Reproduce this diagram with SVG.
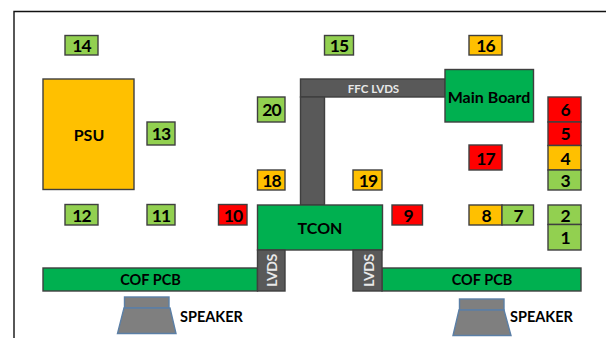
<svg xmlns="http://www.w3.org/2000/svg" width="606" height="338" viewBox="0 0 606 338">
<style>
text{font-family:"Lato","Open Sans","Liberation Sans",sans-serif;font-weight:700;text-anchor:middle;fill:#000}
.b{stroke:#3f3f3f;stroke-width:1.4}
.g{fill:#92d050}.o{fill:#ffc000}.r{fill:#ff0000}.d{fill:#00b050}.k{fill:#595959}
.n{font-size:17.500px;letter-spacing:-1px}.l{font-size:16px}.c{font-size:14.500px}
.w{fill:#e8e8e8;font-size:14px;letter-spacing:-.4px}
.s{fill:#7f7f7f;stroke:#5b7fa6;stroke-width:1.4}
.t{font-size:14.500px;text-anchor:start}
</style>
<path d="M14 338V11.500H606" fill="none" stroke="#111" stroke-width="1.400"/>
<g id="connectors">
<rect class="b k" x="300.500" y="79" width="144.500" height="18"/>
<rect class="b k" x="300.500" y="97" width="24" height="108"/>
<text class="w" x="373.500" y="93" style="font-size:11.500px;letter-spacing:0">FFC LVDS</text>
</g>
<g id="psu"><rect class="b o" x="43" y="79" width="91" height="110.500"/><text class="l" x="89" y="141">PSU</text></g>
<g id="main-board"><rect class="b d" x="445" y="69.500" width="88.500" height="52.500"/><text class="l" x="489" y="103">Main Board</text></g>
<g id="cof-left"><rect class="b d" x="43" y="268" width="214.500" height="23"/><text class="c" x="150.500" y="285">COF PCB</text></g>
<g id="cof-right"><rect class="b d" x="382" y="268" width="199" height="23"/><text class="c" x="482" y="285">COF PCB</text></g>
<g id="tcon"><rect class="b d" x="257.500" y="205" width="125" height="45"/><text class="l" x="320" y="234">TCON</text></g>
<g id="lvds-left"><rect class="b k" x="257.500" y="250" width="27.500" height="41"/><text class="w" transform="translate(277 270.500) rotate(-90)">LVDS</text></g>
<g id="lvds-right"><rect class="b k" x="353" y="250" width="29" height="41"/><text class="w" transform="translate(374 270.500) rotate(-90)">LVDS</text></g>
<g id="n14"><rect class="b g" x="65" y="35.500" width="33" height="19.500"/><text class="n" x="81.500" y="52">14</text></g>
<g id="n13"><rect class="b g" x="147" y="122" width="28" height="23"/><text class="n" x="161" y="140">13</text></g>
<g id="n20"><rect class="b g" x="257.500" y="97" width="27.500" height="25"/><text class="n" x="271.500" y="116">20</text></g>
<g id="n15"><rect class="b g" x="324.500" y="35.500" width="29" height="19.500"/><text class="n" x="339" y="52">15</text></g>
<g id="n16"><rect class="b o" x="469" y="35.500" width="33" height="19.500"/><text class="n" x="485.500" y="52">16</text></g>
<g id="n6"><rect class="b r" x="548" y="97" width="33" height="25"/><text class="n" x="565" y="116">6</text></g>
<g id="n5"><rect class="b r" x="548" y="122" width="33" height="23.500"/><text class="n" x="565" y="140">5</text></g>
<g id="n4"><rect class="b o" x="548" y="145.500" width="33" height="24.500"/><text class="n" x="565" y="165">4</text></g>
<g id="n3"><rect class="b g" x="548" y="170" width="33" height="20"/><text class="n" x="565" y="187">3</text></g>
<g id="n17"><rect class="b r" x="469" y="145" width="33" height="25"/><text class="n" x="485.500" y="165">17</text></g>
<g id="n18"><rect class="b o" x="257.500" y="170" width="27.500" height="20"/><text class="n" x="271.500" y="187">18</text></g>
<g id="n19"><rect class="b o" x="353" y="170" width="29" height="20"/><text class="n" x="368" y="187">19</text></g>
<g id="n12"><rect class="b g" x="65" y="204.500" width="33" height="20.500"/><text class="n" x="81.500" y="222">12</text></g>
<g id="n11"><rect class="b g" x="147" y="204.500" width="28" height="20.500"/><text class="n" x="161" y="222">11</text></g>
<g id="n10"><rect class="b r" x="218.500" y="204.500" width="28.500" height="20.500"/><text class="n" x="233" y="222">10</text></g>
<g id="n9"><rect class="b r" x="392" y="205" width="30.500" height="20"/><text class="n" x="408" y="222">9</text></g>
<g id="n8"><rect class="b o" x="469" y="205" width="33" height="20"/><text class="n" x="486" y="222">8</text></g>
<g id="n7"><rect class="b g" x="502" y="205" width="31.500" height="20"/><text class="n" x="518" y="222">7</text></g>
<g id="n2"><rect class="b g" x="548" y="205" width="33" height="19.500"/><text class="n" x="565" y="222">2</text></g>
<g id="n1"><rect class="b g" x="548" y="224.500" width="33" height="25.500"/><text class="n" x="565" y="244">1</text></g>
<g id="speaker-left"><rect class="s" x="124.500" y="297" width="44.500" height="11"/><path class="s" d="M124 308H170L176 333.500H117.500Z"/><text class="t" x="180" y="322">SPEAKER</text></g>
<g id="speaker-right"><rect class="s" x="459.500" y="299" width="44.500" height="11"/><path class="s" d="M459 310H504L511 335.500H453Z"/><text class="t" x="510" y="322">SPEAKER</text></g>
</svg>
